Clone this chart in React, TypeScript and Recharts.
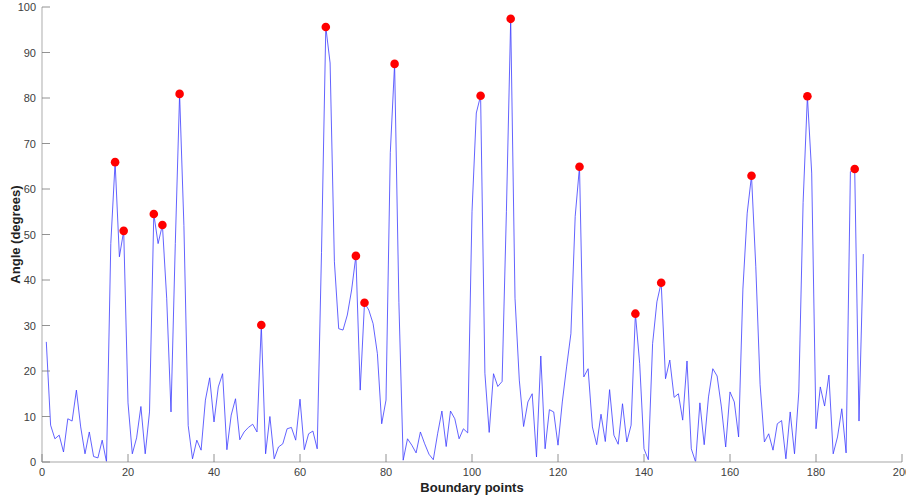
import React from 'react'
import { ComposedChart, Line, XAxis, YAxis } from 'recharts'

// angle at each boundary point, starting at point 1
const angles = [
  26.4, 8.1, 5.1, 5.9, 2.2, 9.5, 9.0, 15.8, 7.7, 1.8,
  6.6, 1.2, 0.9, 4.8, 0, 48, 65.9, 45.1, 50.8, 13,
  1.8, 5.3, 12.2, 1.8, 11, 54.5, 48, 52.1, 36, 11,
  48, 80.9, 52, 8, 0.7, 4.8, 2.6, 13.6, 18.5, 8.8,
  16.5, 19.4, 2.7, 10.3, 13.9, 4.9, 6.6, 7.6, 8.3, 6.6,
  30.1, 1.8, 10, 0.7, 3.3, 4.0, 7.3, 7.6, 4.8, 13.8,
  2.7, 6.2, 6.8, 2.9, 46, 95.6, 87.7, 44, 29.3, 29,
  32.3, 37.8, 45.3, 15.8, 35, 33.4, 30.4, 23.8, 8.4, 13.6,
  68, 87.5, 35, 0.4, 5.1, 3.7, 2, 6.6, 4, 1.7,
  0.5, 6.2, 11.2, 3.4, 11.2, 9.5, 5.1, 7.3, 6.4, 55,
  76.7, 80.5, 19.5, 6.5, 19.4, 16.6, 17.7, 55, 97.4, 36,
  18, 7.8, 13.2, 15, 1.1, 23.3, 2.9, 11.5, 11, 3.7,
  13.2, 20.9, 28.2, 54, 64.9, 18.7, 20.5, 7.7, 3.8, 10.5,
  4.5, 15.9, 5.9, 3.9, 12.8, 4.4, 8.1, 32.6, 21.6, 2.9,
  0.5, 26, 35.2, 39.4, 18.3, 22.4, 14.2, 15, 9.2, 22.2,
  2.9, 0, 13, 3.8, 14.3, 20.5, 18.9, 12.1, 3.3, 15.4,
  13.2, 5.5, 38, 54.7, 62.9, 42.9, 17, 4.4, 6.2, 2.6,
  8.4, 9.1, 0.7, 11, 1.8, 15.4, 57, 80.4, 63.5, 7.3,
  16.5, 12.3, 19.1, 1.8, 5.5, 11.7, 2, 63.8, 64.4, 9,
  45.7,
]

// boundary points flagged as corners (red markers)
const peakPoints = [17, 19, 26, 28, 32, 51, 66, 73, 75, 82, 102, 109, 125, 138, 144, 165, 178, 189]

const xTicks = [0, 20, 40, 60, 80, 100, 120, 140, 160, 180, 200]
const yTicks = [0, 10, 20, 30, 40, 50, 60, 70, 80, 90, 100]

const data = angles.map((a, i) => ({
  x: i + 1,
  angle: a,
  peak: peakPoints.includes(i + 1) ? a : null,
}))

const FONT = '"Liberation Sans", Arial, Helvetica, sans-serif'
const AXIS = '#c4c4c4'
const TICK = '#777'
const LABEL = '#404040'

const XTick = (props: any) => {
  const { x, y, payload } = props
  return (
    <g>
      <line x1={x} x2={x} y1={y} y2={y - 8} stroke={TICK} strokeWidth={0.8} />
      <text x={x} y={y + 14} textAnchor="middle" fontSize={11} fill={LABEL} fontFamily={FONT}>
        {payload.value}
      </text>
    </g>
  )
}

const YTick = (props: any) => {
  const { x, y, payload } = props
  return (
    <g>
      <line x1={x} x2={x + 8} y1={y} y2={y} stroke={TICK} strokeWidth={0.8} />
      <text x={x - 6} y={y + 4} textAnchor="end" fontSize={11} fill={LABEL} fontFamily={FONT}>
        {payload.value}
      </text>
    </g>
  )
}

const PeakDot = (props: any) => {
  const { cx, cy, payload, index } = props
  if (payload.peak == null || cy == null) return <g key={index} />
  return <circle key={index} cx={cx} cy={cy} r={4.3} fill="#ff0000" stroke="none" />
}

export default function App() {
  return (
    <div style={{ position: 'absolute', left: 0, top: 0, background: '#fff' }}>
      <ComposedChart width={906} height={499} data={data} margin={{ top: 7, right: 4, left: 0, bottom: 0 }}>
        <XAxis
          dataKey="x"
          type="number"
          domain={[0, 200]}
          ticks={xTicks}
          tickSize={0}
          tickMargin={0}
          tick={<XTick />}
          tickLine={false}
          axisLine={{ stroke: AXIS, strokeWidth: 1.4 }}
          height={37}
          interval={0}
          label={{
            value: 'Boundary points',
            position: 'insideBottom',
            offset: 7,
            style: { fontFamily: FONT, fontSize: 13, fontWeight: 'bold', fill: '#222' },
          }}
        />
        <YAxis
          type="number"
          domain={[0, 100]}
          ticks={yTicks}
          tickSize={0}
          tickMargin={0}
          tick={<YTick />}
          tickLine={false}
          axisLine={{ stroke: AXIS, strokeWidth: 1.4 }}
          width={42}
          interval={0}
          label={{
            value: 'Angle (degrees)',
            angle: -90,
            position: 'insideLeft',
            offset: 15,
            style: { fontFamily: FONT, fontSize: 13, fontWeight: 'bold', fill: '#222', textAnchor: 'middle' },
          }}
        />
        <Line
          type="linear"
          dataKey="angle"
          stroke="#3b3bff"
          strokeWidth={0.8}
          dot={false}
          activeDot={false}
          isAnimationActive={false}
        />
        <Line
          type="linear"
          dataKey="peak"
          stroke="none"
          dot={<PeakDot />}
          activeDot={false}
          connectNulls={false}
          isAnimationActive={false}
        />
      </ComposedChart>
    </div>
  )
}
